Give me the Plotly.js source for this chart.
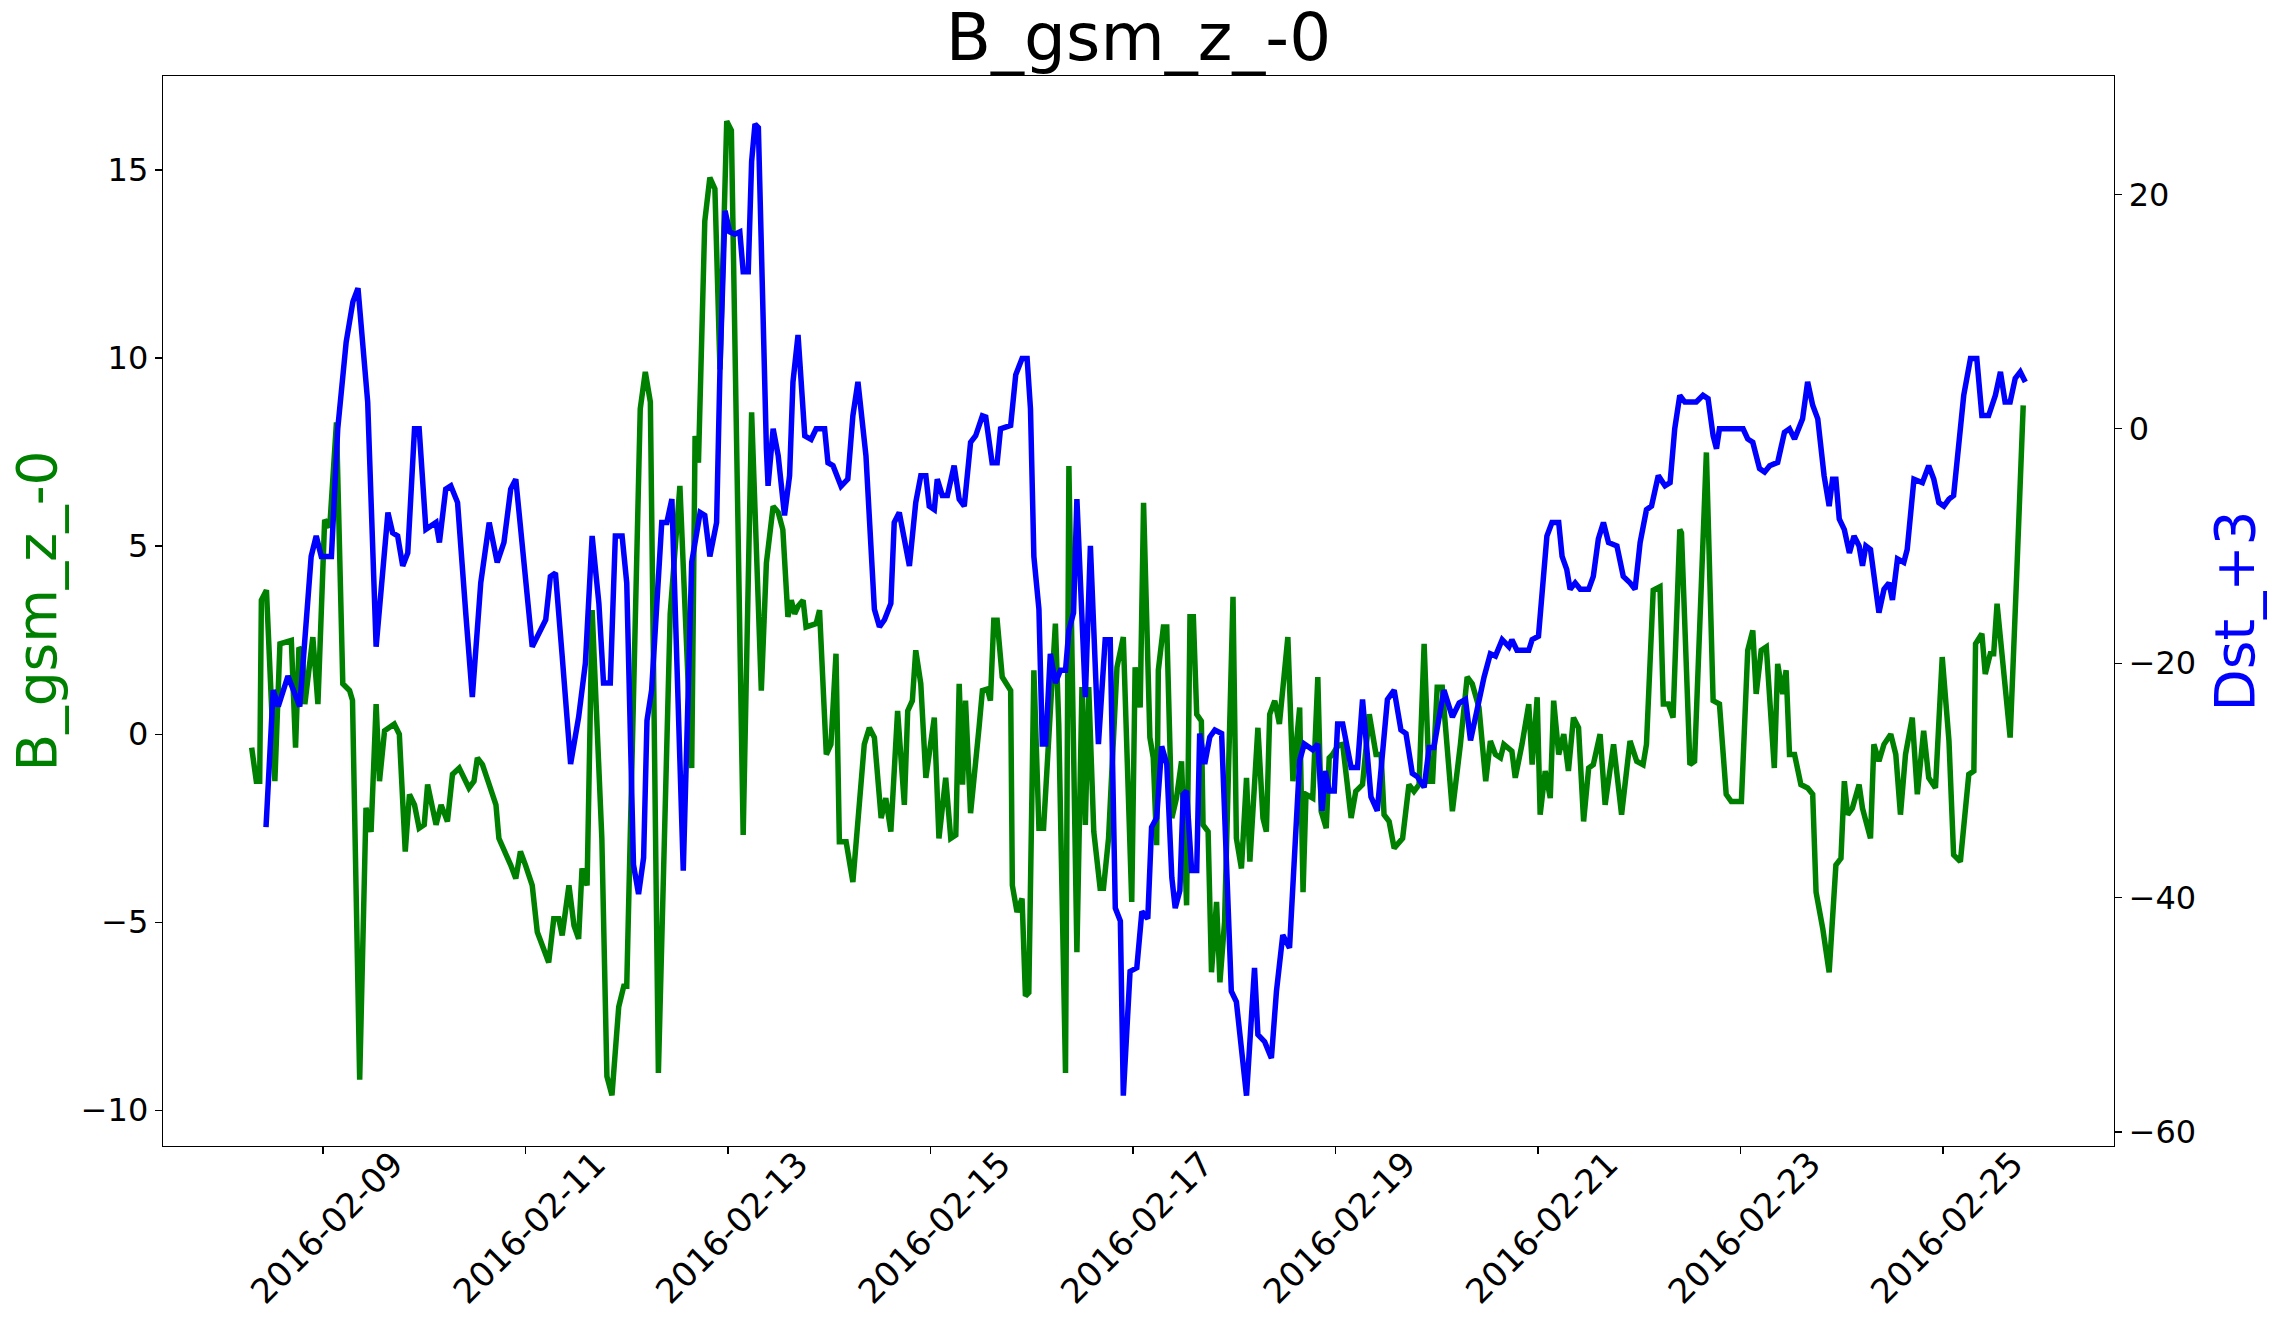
<!DOCTYPE html>
<html>
<head>
<meta charset="utf-8">
<script src="https://cdn.plot.ly/plotly-3.0.1.min.js"></script>
<style>
  html, body { margin: 0; padding: 0; background: #ffffff; }
  #chart { width: 2283px; height: 1322px; }
</style>
</head>
<body>
<div id="chart"></div>
<script>
// Hour offsets are counted from 2016-02-09 00:00 (UTC).
const BASE_DATE = Date.UTC(2016, 1, 9, 0, 0, 0);

// B_gsm_z (nT), sampled vertices: hour offset / value
const bzHours = [
  -16.9, -15.8, -15.0, -14.6, -13.4, -11.4, -10.2, -7.5, -6.5, -5.7, -4.9, -4.3, -2.4, -1.2,
  0.4, 1.6, 3.2, 4.7, 6.3, 7.0, 8.7, 10.2, 11.4, 12.6, 13.4, 14.6, 16.9, 18.1, 19.5, 20.5,
  21.7, 22.8, 24.0, 24.8, 26.8, 28.0, 29.5, 30.7, 32.3, 34.6, 35.8, 36.6, 37.8, 39.4, 41.0,
  41.7, 44.5, 45.7, 46.8, 48.0, 49.6, 50.8, 52.0, 53.5, 54.7, 55.9, 56.7, 58.3, 59.5, 60.6,
  61.4, 62.6, 63.8, 66.1, 67.3, 68.5, 70.1, 71.3, 72.0, 75.2, 76.4, 77.6, 79.5, 82.3, 84.6,
  87.4, 88.2, 89.0, 90.5, 91.7, 92.9, 94.1, 95.7, 96.8, 99.6, 101.6, 103.9, 105.1, 106.7, 107.9,
  109.0, 110.2, 111.0, 111.8, 112.6, 113.8, 114.5, 116.9, 117.7, 119.3, 120.4, 121.6, 122.4, 124.0, 125.6,
  128.3, 129.5, 130.7, 132.3, 133.4, 134.6, 136.2, 137.8, 138.6, 139.7, 140.5, 141.7, 142.9, 144.9, 146.0,
  147.6, 148.8, 150.0, 150.8, 151.6, 152.3, 153.5, 155.5, 156.3, 157.5, 158.2, 159.0, 159.8, 161.0, 163.0,
  163.4, 164.5, 165.7, 166.5, 167.3, 168.5, 169.7, 170.8, 173.6, 174.4, 176.0, 176.8, 178.7, 179.9, 180.7,
  181.5, 182.7, 184.2, 185.0, 186.2, 188.2, 189.7, 191.7, 192.5, 193.7, 194.5, 196.0, 196.8, 197.6, 198.0,
  199.2, 200.0, 201.2, 202.3, 203.5, 204.7, 205.5, 206.3, 207.1, 208.2, 208.6, 209.8, 210.6, 211.8, 212.6,
  213.7, 215.7, 216.5, 217.7, 218.9, 219.7, 221.6, 222.8, 223.6, 224.4, 225.6, 226.7, 228.7, 229.9, 231.5,
  232.3, 233.0, 234.6, 235.8, 236.6, 237.8, 238.5, 239.3, 240.6, 241.7, 243.7, 244.8, 246.4, 248.0, 249.6,
  250.8, 251.5, 252.7, 253.9, 255.9, 257.4, 258.6, 259.8, 261.0, 262.2, 263.0, 264.1, 265.3, 267.7, 269.6,
  271.2, 272.4, 274.0, 275.6, 276.7, 277.9, 279.1, 279.9, 281.8, 282.6, 284.2, 285.8, 286.6, 287.8, 288.5,
  289.7, 290.9, 291.7, 292.9, 294.1, 295.2, 296.4, 297.6, 298.8, 300.0, 301.1, 302.7, 303.9, 305.9, 307.8,
  309.8, 311.4, 312.9, 313.7, 315.3, 316.9, 317.7, 318.9, 320.0, 321.6, 322.0, 324.0, 325.1, 327.9, 329.5,
  331.0, 332.6, 333.8, 336.2, 337.7, 338.9, 339.7, 340.9, 342.1, 344.0, 344.8, 346.0, 346.8, 347.6, 348.8,
  350.3, 351.9, 353.1, 353.9, 355.5, 357.0, 358.6, 359.8, 360.6, 361.4, 362.5, 364.1, 364.9, 366.8, 367.6,
  368.8, 370.0, 371.6, 372.8, 373.9, 375.1, 376.7, 377.9, 379.4, 380.6, 382.2, 383.8, 385.4, 386.5, 388.1,
  390.1, 391.3, 391.7, 393.2, 394.0, 395.2, 396.0, 396.8, 399.9, 401.5, 403.0
];
const bzValues = [
  -0.36, -1.25, -1.25, 3.56, 3.83, -1.25, 2.4, 2.49, -0.36, 2.3, 2.2, 0.8, 2.58, 0.8,
  5.7, 5.5, 8.29, 1.34, 1.16, 0.9, -9.19, -1.96, -2.6, 0.8, -1.25, 0.09, 0.27, 0.0, -3.12, -1.6,
  -1.88, -2.5, -2.41, -1.34, -2.41, -1.88, -2.32, -1.07, -0.9, -1.43, -1.25, -0.63, -0.81, -1.34, -1.88,
  -2.77, -3.48, -3.84, -3.12, -3.48, -4.02, -5.26, -5.62, -6.07, -4.91, -4.91, -5.35, -4.02, -5.09, -5.44,
  -3.57, -4.02, 3.3, -2.77, -9.1, -9.6, -7.25, -6.7, -6.7, 8.65, 9.63, 8.83, -9.01, 3.2, 6.6,
  -0.9, 7.93, 7.22, 13.64, 14.8, 14.5, 9.7, 16.3, 16.05, -2.68, 8.56, 1.16, 4.55, 6.06, 5.9,
  5.44, 3.12, 3.56, 3.2, 3.4, 3.56, 2.85, 2.94, 3.3, -0.54, -0.27, 2.14, -2.86, -2.86, -3.93,
  -0.27, 0.17, -0.09, -2.23, -1.7, -2.59, 0.62, -1.88, 0.62, 0.89, 2.23, 1.34, -1.16, 0.44, -2.77,
  -1.16, -2.77, -2.68, 1.34, -1.34, 0.89, -2.1, 0.17, 1.16, 1.2, 0.89, 3.03, 3.03, 1.52, 1.16,
  -4.02, -4.73, -4.37, -6.96, -6.87, 1.7, -2.5, -2.5, 2.94, 0.26, -9.01, 7.13, -5.8, 1.25, -2.41,
  1.25, -2.59, -4.1, -4.1, -2.77, 1.78, 2.58, -4.46, 1.78, 0.71, 6.15, -0.09, -0.63, -2.95, 1.7,
  2.85, 2.85, -2.23, -1.7, -0.72, -4.55, 3.12, 3.12, 0.53, 0.35, -2.41, -2.59, -6.33, -4.46, -6.6,
  -4.99, 3.65, -2.77, -3.57, -1.16, -3.39, 0.17, -2.23, -2.59, 0.53, 0.89, 0.27, 2.58, -1.25, 0.71,
  -4.2, -1.6, -1.7, 1.52, -2.05, -2.5, -0.63, -0.54, -0.3, -0.27, -2.23, -1.52, -1.34, 0.53, -0.54,
  -0.54, -2.14, -2.32, -3.03, -2.77, -1.34, -1.52, -1.34, 2.4, -1.25, -1.25, 1.25, 1.25, -2.05, -0.27,
  1.52, 1.34, 0.71, -1.25, -0.18, -0.54, -0.63, -0.27, -0.45, -1.16, -0.27, 0.8, -0.81, 0.98, -2.14,
  -0.98, -1.7, 0.89, -0.54, 0.0, -0.98, 0.44, 0.17, -2.32, -0.9, -0.81, 0.0, -1.88, -0.27, -2.14,
  -0.18, -0.72, -0.81, -0.27, 3.83, 3.92, 0.8, 0.8, 0.44, 5.44, 5.35, -0.81, -0.72, 7.49, 0.89,
  0.8, -1.6, -1.79, -1.79, 2.23, 2.76, 1.07, 2.23, 2.32, -0.9, 1.87, 1.07, 1.7, -0.54, -0.54,
  -1.34, -1.43, -1.6, -4.2, -5.18, -6.33, -3.48, -3.3, -1.25, -2.14, -1.97, -1.34, -1.97, -2.77, -0.27,
  -0.72, -0.27, 0.0, -0.54, -2.14, -0.54, 0.44, -1.6, 0.09, -1.16, -1.43, 2.05, -0.18, -3.21, -3.39,
  -1.07, -0.98, 2.4, 2.67, 1.6, 2.14, 2.14, 3.47, -0.09, 4.37, 8.74
];

// Dst index (nT), shifted by +3 h, sampled vertices: hour offset / value
const dstHours = [
  -13.5, -11.8, -10.6, -8.3, -5.5, -2.8, -1.6, -0.4, 2.0, 3.5, 5.5, 7.1, 8.3, 10.6, 12.6,
  15.4, 16.5, 17.7, 18.9, 20.1, 21.7, 22.8, 24.4, 26.8, 27.6, 29.1, 30.3, 31.9, 33.9, 35.4,
  37.4, 39.4, 41.3, 42.9, 44.5, 45.7, 49.6, 52.8, 53.9, 55.1, 56.7, 58.7, 60.6, 62.2, 63.8,
  65.4, 66.5, 68.1, 69.3, 70.9, 72.0, 73.6, 74.8, 76.0, 76.8, 77.9, 80.3, 81.5, 82.7, 85.4,
  87.4, 89.4, 90.5, 91.7, 93.3, 94.1, 95.3, 96.4, 97.6, 98.8, 99.6, 100.8, 101.6, 102.4, 103.2,
  105.1, 105.5, 106.7, 107.9, 109.4, 110.6, 111.4, 112.6, 114.2, 115.7, 116.9, 118.9, 119.7, 120.9, 122.8,
  124.4, 125.6, 126.8, 128.7, 130.7, 131.9, 133.1, 134.6, 135.4, 136.6, 139.0, 140.5, 141.7, 142.9, 143.7,
  144.9, 145.6, 146.8, 148.0, 149.6, 150.8, 152.0, 153.5, 154.7, 156.3, 157.1, 158.6, 159.8, 160.6, 163.0,
  164.2, 165.7, 166.9, 167.7, 168.5, 169.7, 170.5, 171.3, 172.4, 173.6, 174.8, 176.0, 176.8, 177.9, 178.7,
  180.7, 181.9, 183.8, 185.4, 186.6, 187.8, 189.0, 189.7, 191.3, 192.9, 194.1, 195.5, 196.4, 197.6, 198.8,
  200.0, 201.2, 202.0, 203.1, 203.9, 204.7, 205.9, 207.1, 207.8, 209.0, 210.2, 211.4, 213.0, 215.3, 216.5,
  218.9, 220.8, 221.6, 223.2, 224.8, 226.0, 227.5, 229.1, 231.5, 232.6, 234.6, 235.8, 236.8, 237.6, 238.5,
  239.7, 240.5, 241.7, 243.7, 245.2, 246.4, 248.4, 249.9, 252.3, 253.9, 255.5, 256.7, 258.2, 259.4, 261.0,
  262.2, 263.3, 265.7, 267.7, 269.3, 270.8, 272.0, 275.2, 276.7, 277.9, 279.5, 281.1, 281.8, 283.0, 285.8,
  286.6, 288.1, 290.1, 291.3, 292.9, 293.7, 294.8, 295.6, 296.8, 298.0, 300.0, 301.1, 302.3, 303.5, 304.7,
  306.7, 308.2, 309.8, 311.0, 312.2, 313.7, 314.9, 316.5, 318.1, 319.3, 320.4, 321.6, 322.8, 325.5, 327.1,
  328.3, 329.5, 330.3, 331.0, 336.6, 337.7, 338.9, 340.5, 341.7, 342.9, 344.8, 346.4, 347.6, 348.8, 350.7,
  351.9, 353.1, 354.3, 355.8, 357.0, 357.8, 358.6, 359.4, 360.6, 361.8, 362.9, 364.1, 364.9, 365.7, 366.8,
  368.8, 370.0, 371.2, 372.0, 373.2, 374.7, 375.5, 377.1, 379.1, 380.6, 381.8, 383.0, 384.2, 385.4, 386.5,
  388.9, 390.5, 392.0, 393.2, 394.8, 396.4, 397.6, 398.7, 399.9, 401.1, 402.3, 403.5
];
const dstValues = [
  -34.0, -22.3, -23.7, -21.1, -23.7, -10.9, -9.15, -10.9, -10.9, 0.0, 7.4, 10.85, 12.0, 2.28, -18.6,
  -7.15, -8.87, -9.15, -11.7, -10.6, 0.0, 0.0, -8.58, -8.0, -9.7, -5.15, -4.87, -6.3, -16.0, -22.9,
  -13.15, -8.0, -11.4, -9.7, -5.15, -4.3, -18.6, -16.3, -12.6, -12.3, -19.4, -28.6, -24.6, -20.0, -9.15,
  -14.9, -21.7, -21.7, -9.15, -9.15, -13.15, -37.2, -39.7, -36.6, -24.9, -22.3, -8.0, -8.0, -6.0, -37.7,
  -11.4, -7.15, -7.4, -10.9, -8.0, 5.1, 18.6, 16.8, 16.6, 16.8, 13.4, 13.4, 22.8, 26.0, 25.7,
  -1.7, -4.87, 0.0, -2.3, -7.4, -4.0, 4.0, 8.0, -0.6, -0.9, 0.0, 0.0, -2.9, -3.15, -4.9,
  -4.3, 1.1, 4.0, -2.3, -15.4, -16.9, -16.3, -14.9, -8.0, -7.15, -11.7, -6.3, -4.0, -4.0, -6.6,
  -6.9, -4.3, -5.7, -5.7, -3.15, -6.0, -6.6, -1.15, -0.6, 1.1, 1.0, -2.9, -2.9, 0.0, 0.28,
  4.6, 6.0, 6.0, 1.7, -10.9, -15.4, -26.9, -26.9, -19.2, -21.7, -20.6, -20.6, -17.2, -15.7, -6.0,
  -22.9, -10.0, -26.9, -18.0, -18.0, -40.9, -42.0, -56.9, -46.3, -46.0, -41.2, -41.8, -34.0, -33.2, -27.1,
  -28.6, -38.3, -40.9, -39.4, -31.2, -30.9, -37.7, -37.7, -26.0, -28.6, -26.3, -25.7, -26.0, -48.0, -48.9,
  -56.9, -46.0, -51.7, -52.3, -53.7, -48.0, -43.2, -44.3, -28.3, -26.9, -27.4, -26.9, -32.6, -29.2, -30.9,
  -30.9, -25.2, -25.2, -28.9, -28.9, -23.1, -31.4, -32.6, -23.1, -22.3, -25.7, -26.0, -29.4, -29.7, -30.6,
  -27.2, -27.2, -22.3, -24.6, -23.4, -23.1, -26.6, -21.2, -19.2, -19.4, -18.0, -18.6, -18.0, -18.9, -18.9,
  -18.0, -17.7, -9.15, -8.0, -8.0, -10.9, -12.0, -13.7, -13.15, -13.7, -13.7, -12.6, -9.4, -8.0, -9.7,
  -10.0, -12.6, -13.15, -13.7, -9.7, -6.9, -6.6, -4.0, -4.87, -4.6, 0.0, 2.85, 2.28, 2.28, 2.85,
  2.57, -0.6, -1.7, 0.0, 0.0, -0.87, -1.15, -3.4, -3.7, -3.15, -2.87, -0.3, 0.0, -0.87, 0.85,
  4.0, 2.0, 0.85, -4.0, -6.6, -4.3, -4.3, -7.7, -8.6, -10.6, -9.15, -10.0, -11.7, -10.0, -10.3,
  -15.7, -13.7, -13.15, -14.6, -11.1, -11.4, -10.3, -4.3, -4.6, -3.15, -4.3, -6.3, -6.6, -6.0, -5.7,
  2.85, 6.0, 6.0, 1.13, 1.13, 2.85, 4.85, 2.28, 2.28, 4.3, 4.85, 4.0
];

// Date ticks, every second day
const tickDates = [
  "2016-02-09", "2016-02-11", "2016-02-13", "2016-02-15", "2016-02-17",
  "2016-02-19", "2016-02-21", "2016-02-23", "2016-02-25"
];

const bzTicks = [-10, -5, 0, 5, 10, 15];
const dstTicks = [-60, -40, -20, 0, 20];

function stamp(hours) {
  const d = new Date(BASE_DATE + Math.round(hours * 60) * 60000);
  return d.toISOString().slice(0, 19).replace('T', ' ');
}

// x range padded by 5% of the data span on each side
const tMin = Math.min(bzHours[0], dstHours[0]);
const tMax = Math.max(bzHours[bzHours.length - 1], dstHours[dstHours.length - 1]);
const tPad = 0.05 * (tMax - tMin);

const FONT = 'DejaVu Sans, Liberation Sans, sans-serif';

const traces = [
  {
    x: bzHours.map(stamp),
    y: bzValues,
    type: 'scatter',
    mode: 'lines',
    name: 'B_gsm_z_-0',
    line: { color: '#008000', width: 5.5, simplify: false },
    yaxis: 'y'
  },
  {
    x: dstHours.map(stamp),
    y: dstValues,
    type: 'scatter',
    mode: 'lines',
    name: 'Dst_+3',
    line: { color: '#0000ff', width: 5.5, simplify: false },
    yaxis: 'y2'
  }
];

const axisCommon = {
  showgrid: false,
  zeroline: false,
  showline: true,
  linecolor: '#000000',
  linewidth: 1.3,
  ticks: 'outside',
  ticklen: 7,
  tickwidth: 1.3,
  tickcolor: '#000000',
  tickfont: { family: FONT, size: 32, color: '#000000' }
};

const layout = {
  width: 2283,
  height: 1322,
  paper_bgcolor: '#ffffff',
  plot_bgcolor: '#ffffff',
  showlegend: false,
  margin: { l: 163, r: 169, t: 76, b: 176, pad: 0 },
  title: {
    text: 'B_gsm_z_-0',
    font: { family: FONT, size: 66, color: '#000000' },
    x: 0.5,
    xref: 'paper',
    xanchor: 'center',
    y: 1,
    yref: 'paper',
    yanchor: 'bottom',
    pad: { b: 16 }
  },
  xaxis: Object.assign({}, axisCommon, {
    type: 'date',
    range: [stamp(tMin - tPad), stamp(tMax + tPad)],
    tickmode: 'array',
    tickvals: tickDates,
    ticktext: tickDates,
    tickangle: -45,
    tickfont: { family: FONT, size: 34, color: '#000000' },
    ticklabelshift: 70,
    ticklabelstandoff: -24,
    mirror: true
  }),
  yaxis: Object.assign({}, axisCommon, {
    range: [-10.95, 17.5],
    tickmode: 'array',
    tickvals: bzTicks,
    title: {
      text: 'B_gsm_z_-0',
      font: { family: FONT, size: 55, color: '#008000' },
      standoff: 6
    }
  }),
  yaxis2: Object.assign({}, axisCommon, {
    range: [-61.2, 30.1],
    overlaying: 'y',
    side: 'right',
    tickmode: 'array',
    tickvals: dstTicks,
    title: {
      text: 'Dst_+3',
      font: { family: FONT, size: 55, color: '#0000ff' },
      standoff: 20
    }
  })
};

Plotly.newPlot('chart', traces, layout, { displayModeBar: false, staticPlot: true });
</script>
</body>
</html>
